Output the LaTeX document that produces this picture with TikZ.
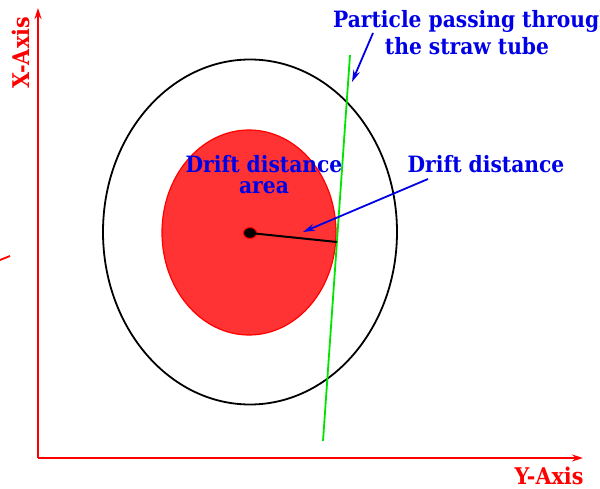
\documentclass[tikz,border=0pt]{standalone}
\usepackage{fontspec}
\setmainfont{DejaVu Serif}
\newfontfamily\lblfont{DejaVu Serif Condensed}
\usetikzlibrary{arrows.meta,shapes.geometric}
\definecolor{fillred}{RGB}{255,51,51}
\definecolor{lblblue}{RGB}{0,0,230}
\tikzset{
  axis/.style={red, line width=1.8pt, -{Stealth[length=11pt,width=7pt]}},
  axislbl/.style={red, font=\lblfont\bfseries\fontsize{23}{24}\selectfont, inner sep=0pt},
  bluelbl/.style={lblblue, font=\lblfont\bfseries\fontsize{22.5}{21.5}\selectfont, inner sep=0pt, align=center},
  bluearrow/.style={lblblue, line width=1.8pt, -{Stealth[length=12pt,width=7pt]}},
  ell/.style={ellipse, inner sep=0pt, outer sep=0pt},
}
\begin{document}
\begin{tikzpicture}[x=1pt,y=-1pt]
\useasboundingbox (0,0) rectangle (600,489);
\clip (0,0) rectangle (600,489);
% axes
\coordinate (O) at (38,458);
\coordinate (Xend) at (38,8);
\coordinate (Yend) at (583,458);
\draw[axis] (O) -- (Xend);
\draw[axis] (O) -- (Yend);
\node[axislbl, rotate=90] (xlbl) at (21,53) {X-Axis};
\node[axislbl] (ylbl) at (549,475.5) {Y-Axis};
\coordinate (t1) at (0,260);
\coordinate (t2) at (10,256);
\draw[red, line width=1.8pt] (t1) -- (t2);
% tube
\node[ell, draw=black, line width=1.8pt, minimum width=294pt, minimum height=345pt] (tube) at (250,232) {};
\node[ell, draw=red, fill=fillred, line width=1.2pt, minimum width=174pt, minimum height=205pt] (area0) at (249,232.5) {};
% particle track
\coordinate (g1) at (350,55);
\coordinate (g2) at (323,441);
\draw[green!90!black, line width=1.8pt] (g1) -- (g2);
% wire and drift distance
\coordinate (hit) at (337,242);
\node[ell, fill=black, draw=red, line width=1pt, minimum width=13pt, minimum height=11pt] (wire) at (250,233) {};
\draw[black, line width=2pt] (wire.center) -- (hit);
% labels
\node[bluelbl, anchor=base] (area) at (264,194) {Drift distance\\area};
\node[bluelbl, anchor=base] (dd) at (486,173) {Drift distance};
\node[bluelbl, anchor=base west, align=left] (part) at (333,28) {Particle passing through};
\node[bluelbl, anchor=base] (straw) at (467,55) {the straw tube};
\coordinate (ddtip) at (303,232);
\coordinate (ptip) at (352,82);
\coordinate (ddtail) at (428,179);
\coordinate (ptail) at (373,33);
\draw[bluearrow] (ddtail) -- (ddtip);
\draw[bluearrow] (ptail) -- (ptip);
\end{tikzpicture}
\end{document}
